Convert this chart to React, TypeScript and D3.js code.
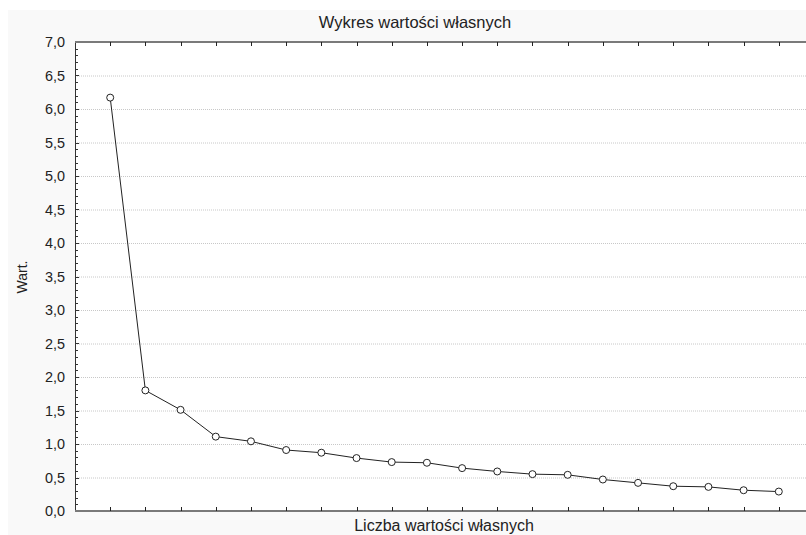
import { useEffect, useRef } from "react";
import * as d3 from "d3";

const eigenNumbers = d3.range(1, 21);
const eigenValues = [
  6.17, 1.8, 1.51, 1.11, 1.04, 0.91, 0.87, 0.79, 0.73, 0.72,
  0.64, 0.59, 0.55, 0.54, 0.47, 0.42, 0.37, 0.36, 0.31, 0.29,
];
const yTicks = [0, 0.5, 1, 1.5, 2, 2.5, 3, 3.5, 4, 4.5, 5, 5.5, 6, 6.5, 7];

const W = 806;
const H = 535;
const PLOT = { left: 75, top: 42, right: 814, bottom: 511 };
const FONT = "Liberation Sans, Arial, sans-serif";

export default function App() {
  const svgRef = useRef<SVGSVGElement>(null);

  useEffect(() => {
    const svg = d3.select(svgRef.current);
    svg.selectAll("*").remove();

    // tło
    svg.append("rect").attr("width", W).attr("height", H).attr("fill", "#fff");
    svg.append("rect")
      .attr("x", 8).attr("y", 10).attr("width", W - 8).attr("height", H - 10)
      .attr("fill", "#f9f9f9");
    svg.append("rect")
      .attr("x", PLOT.left).attr("y", PLOT.top)
      .attr("width", PLOT.right - PLOT.left).attr("height", PLOT.bottom - PLOT.top)
      .attr("fill", "#fff");

    const x = d3.scaleLinear().domain([0, 21]).range([PLOT.left, PLOT.right]);
    const y = d3.scaleLinear().domain([0, 7]).range([PLOT.bottom, PLOT.top]);

    // siatka
    svg.append("g")
      .selectAll("line")
      .data(yTicks.filter(t => t > 0 && t < 7))
      .join("line")
      .attr("x1", PLOT.left).attr("x2", PLOT.right)
      .attr("y1", d => y(d) + 0.5).attr("y2", d => y(d) + 0.5)
      .attr("stroke", "#c8c8c8")
      .attr("stroke-dasharray", "1,1");

    // oś Y
    const yAxis = svg.append("g").attr("transform", `translate(${PLOT.left},0)`);
    yAxis.append("g")
      .selectAll("line")
      .data(d3.range(0, 71).map(i => i / 10))
      .join("line")
      .attr("x1", 0).attr("x2", d => (Math.round(d * 10) % 5 === 0 ? 4 : 3))
      .attr("y1", d => Math.round(y(d)) + 0.5).attr("y2", d => Math.round(y(d)) + 0.5)
      .attr("stroke", "#333");
    yAxis.append("line")
      .attr("x1", 0.5).attr("x2", 0.5)
      .attr("y1", PLOT.top).attr("y2", PLOT.bottom)
      .attr("stroke", "#333");
    yAxis.append("g")
      .selectAll("text")
      .data(yTicks)
      .join("text")
      .attr("x", -10)
      .attr("y", d => y(d))
      .attr("dy", "0.36em")
      .attr("text-anchor", "end")
      .attr("font-family", FONT)
      .attr("font-size", 14.4)
      .attr("fill", "#222")
      .text(d => d3.format(".1f")(d).replace(".", ","));

    // osie X (dolna i górna)
    [PLOT.bottom, PLOT.top].forEach((yy, k) => {
      svg.append("line")
        .attr("x1", PLOT.left).attr("x2", PLOT.right)
        .attr("y1", yy).attr("y2", yy)
        .attr("stroke", "#7a7a7a").attr("stroke-width", 2);
      svg.append("g")
        .selectAll("line")
        .data(eigenNumbers)
        .join("line")
        .attr("x1", d => Math.round(x(d)) + 0.5).attr("x2", d => Math.round(x(d)) + 0.5)
        .attr("y1", yy).attr("y2", k === 0 ? yy - 4 : yy + 4)
        .attr("stroke", "#222");
    });

    // linia
    const line = d3.line<number>()
      .x((_, i) => x(eigenNumbers[i]))
      .y(d => y(d));
    svg.append("path")
      .datum(eigenValues)
      .attr("d", line)
      .attr("fill", "none")
      .attr("stroke", "#222")
      .attr("stroke-width", 1);

    svg.append("g")
      .selectAll("circle")
      .data(eigenValues)
      .join("circle")
      .attr("cx", (_, i) => x(eigenNumbers[i]))
      .attr("cy", d => y(d))
      .attr("r", 3.5)
      .attr("fill", "#fff")
      .attr("stroke", "#222")
      .attr("stroke-width", 1);

    // teksty
    svg.append("text")
      .attr("x", 415).attr("y", 28)
      .attr("text-anchor", "middle")
      .attr("font-family", FONT).attr("font-size", 16.5).attr("fill", "#222")
      .text("Wykres wartości własnych");
    svg.append("text")
      .attr("x", 444).attr("y", 530.5)
      .attr("text-anchor", "middle")
      .attr("font-family", FONT).attr("font-size", 16).attr("fill", "#222")
      .text("Liczba wartości własnych");
    svg.append("text")
      .attr("transform", "translate(27,277) rotate(-90)")
      .attr("text-anchor", "middle")
      .attr("font-family", FONT).attr("font-size", 14).attr("fill", "#222")
      .text("Wart.");
  }, []);

  return (
    <svg
      ref={svgRef}
      width={W}
      height={H}
      style={{ position: "absolute", left: 0, top: 0, display: "block" }}
    />
  );
}
